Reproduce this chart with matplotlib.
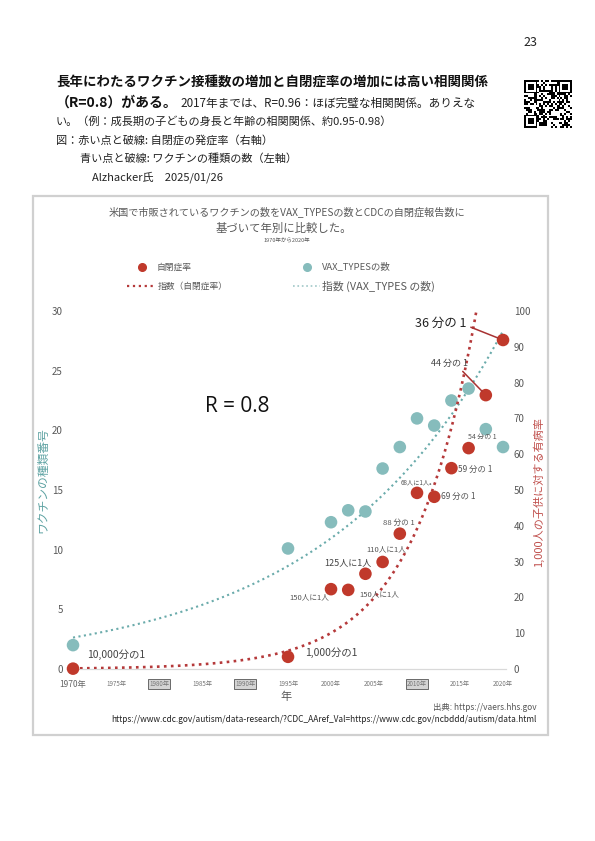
import hashlib
import numpy as np
import matplotlib
matplotlib.use('Agg')
import matplotlib.pyplot as plt
from matplotlib.lines import Line2D
from matplotlib.patches import Rectangle

plt.rcParams['font.family'] = ['Noto Sans CJK JP', 'DejaVu Sans']

# ---------------- data ----------------
years = [1970, 1995, 2000, 2002, 2004, 2006, 2008, 2010, 2012, 2014, 2016, 2018, 2020]
vax_types = [2.0, 10.1, 12.3, 13.3, 13.2, 16.8, 18.6, 21.0, 20.4, 22.5, 23.5, 20.1, 18.6]
autism_rate = [0.1, 3.4, 22.3, 22.1, 26.6, 29.9, 37.8, 49.2, 48.1, 56.1, 61.7, 76.5, 91.9]
rate_labels = ['10,000分の1', '1,000分の1', '150人に1人', '150人に1人', '125人に1人',
               '110人に1人', '88 分の 1', '68人に1人。', '69 分の 1', '59 分の 1',
               '54 分の 1', '44 分の 1', '36 分の 1']
xtick_years = [1970, 1975, 1980, 1985, 1990, 1995, 2000, 2005, 2010, 2015, 2020]
xtick_labels = [f'{y}年' for y in xtick_years]
boxed_years = [1980, 1990, 2010]
left_ticks = [0, 5, 10, 15, 20, 25, 30]
right_ticks = [0, 10, 20, 30, 40, 50, 60, 70, 80, 90, 100]

# ---------------- helpers ----------------
W, H = 595, 841
def fx(x):
    return x / W
def fy(y):
    return 1 - y / H

RED = '#c0392b'
RED_LINE = '#b5393a'
TEAL = '#86bcbc'
TEAL_LINE = '#6aabab'
GRAY = '#595959'

fig = plt.figure(figsize=(5.95, 8.41), dpi=100)
fig.patch.set_facecolor('white')

# ---------------- page header ----------------
fig.text(fx(530), fy(42), '23', fontsize=9, color='#222', ha='center', va='center')
fig.text(fx(56), fy(82), '長年にわたるワクチン接種数の増加と自閉症率の増加には高い相関関係',
         fontsize=9.7, weight='bold', color='#111', ha='left', va='center')
fig.text(fx(56), fy(103), '（R=0.8）がある。', fontsize=10, weight='bold', color='#111',
         ha='left', va='center')
fig.text(fx(180), fy(103), '2017年までは、R=0.96：ほぼ完璧な相関関係。ありえな',
         fontsize=8.4, color='#222', ha='left', va='center')
fig.text(fx(56), fy(122), 'い。（例：成長期の子どもの身長と年齢の相関関係、約0.95-0.98）',
         fontsize=8.0, color='#222', ha='left', va='center')
fig.text(fx(56), fy(140), '図：赤い点と破線: 自閉症の発症率（右軸）',
         fontsize=8.0, color='#222', ha='left', va='center')
fig.text(fx(80), fy(159), '青い点と破線: ワクチンの種類の数（左軸）',
         fontsize=8.0, color='#222', ha='left', va='center')
fig.text(fx(92), fy(177), 'Alzhacker氏　2025/01/26',
         fontsize=8.0, color='#222', ha='left', va='center')

# QR-like block (decorative)
n = 25
bits = []
seed = b'https://alzhacker.com'
while len(bits) < n * n:
    seed = hashlib.sha256(seed).digest()
    for byte in seed:
        for k in range(8):
            bits.append((byte >> k) & 1)
qr = np.array(bits[:n * n]).reshape(n, n)
def finder(r, c):
    qr[r:r + 7, c:c + 7] = 1
    qr[r + 1:r + 6, c + 1:c + 6] = 0
    qr[r + 2:r + 5, c + 2:c + 5] = 1
for (r, c) in [(0, 0), (0, n - 7), (n - 7, 0)]:
    finder(r, c)
qax = fig.add_axes([fx(523), fy(128), 49 / W, 48 / H])
qax.imshow(qr, cmap='gray_r', interpolation='nearest')
qax.axis('off')

# ---------------- chart frame ----------------
fig.add_artist(Rectangle((fx(33), fy(735)), (548 - 33) / W, (735 - 196) / H,
                         transform=fig.transFigure, fill=False,
                         edgecolor='#d0d0d0', linewidth=1.6))

fig.text(fx(287), fy(212), '米国で市販されているワクチンの数をVAX_TYPESの数とCDCの自閉症報告数に',
         fontsize=7.3, color=GRAY, ha='center', va='center')
fig.text(fx(284), fy(228), '基づいて年別に比較した。', fontsize=8.2, color=GRAY,
         ha='center', va='center')
fig.text(fx(287), fy(241), '1970年から2020年', fontsize=4, color=GRAY, ha='center', va='center')

# legend (manual)
fig.add_artist(Line2D([fx(142)], [fy(267)], marker='o', markersize=5.5, color=RED,
                      linestyle='none', transform=fig.transFigure))
fig.text(fx(157), fy(267), '自閉症率', fontsize=6.3, color=GRAY, ha='left', va='center')
fig.add_artist(Line2D([fx(307)], [fy(267)], marker='o', markersize=5.5, color=TEAL,
                      linestyle='none', transform=fig.transFigure))
fig.text(fx(322), fy(267), 'VAX_TYPESの数', fontsize=6.8, color=GRAY, ha='left', va='center')
fig.add_artist(Line2D([fx(127), fx(156)], [fy(286), fy(286)], linestyle=':', linewidth=1.6,
                      color=RED_LINE, transform=fig.transFigure))
fig.text(fx(158), fy(286), '指数（自閉症率）', fontsize=6.3, color=GRAY, ha='left', va='center')
fig.add_artist(Line2D([fx(293), fx(320)], [fy(286), fy(286)], linestyle=':', linewidth=1.2,
                      color='#9fc7c7', transform=fig.transFigure))
fig.text(fx(322), fy(286), '指数 (VAX_TYPES の数)', fontsize=7.8, color=GRAY, ha='left', va='center')

# ---------------- axes ----------------
ax = fig.add_axes([fx(67), fy(669), (505.6 - 67) / W, (669 - 311) / H])
ax.set_xlim(1969.3, 2020.3)
ax.set_ylim(0, 30)
ax2 = ax.twinx()
ax2.set_ylim(0, 100)

for a in (ax, ax2):
    for s in ('top', 'left', 'right'):
        a.spines[s].set_visible(False)
    a.patch.set_visible(False)
ax2.spines['bottom'].set_visible(False)
ax.spines['bottom'].set_color('#d9d9d9')
ax.spines['bottom'].set_linewidth(0.9)

# exponential trend lines fitted to the data
t = np.array(years) - 1970
grid = np.linspace(1970, 2020, 300)
bv, av = np.polyfit(t, np.log(vax_types), 1)
br, ar = np.polyfit(t, np.log(autism_rate), 1)
ax.plot(grid, np.exp(av + bv * (grid - 1970)), linestyle=':', color=TEAL_LINE,
        linewidth=1.5, zorder=2)
ax2.plot(grid, np.exp(ar + br * (grid - 1970)), linestyle=':', color=RED_LINE,
         linewidth=1.9, zorder=2)

ax.scatter(years, vax_types, s=82, color=TEAL, edgecolors='none', zorder=3, clip_on=False)
ax2.scatter(years, autism_rate, s=82, color=RED, edgecolors='none', zorder=3, clip_on=False)

ax.set_yticks(left_ticks)
ax.set_yticklabels([str(v) for v in left_ticks])
ax2.set_yticks(right_ticks)
ax2.set_yticklabels([str(v) for v in right_ticks])
ax.tick_params(axis='y', length=0, labelsize=7, labelcolor=GRAY, pad=3)
ax2.tick_params(axis='y', length=0, labelsize=7, labelcolor=GRAY, pad=6)

ax.set_xticks(xtick_years)
ax.set_xticklabels(xtick_labels)
ax.tick_params(axis='x', length=0, labelsize=4.5, labelcolor='#777', pad=8)
for lab, yr in zip(ax.get_xticklabels(), xtick_years):
    if yr == 1970:
        lab.set_fontsize(6)
        lab.set_color('#666')
    if yr in boxed_years:
        lab.set_bbox(dict(boxstyle='square,pad=0.15', facecolor='#d4d4d4',
                          edgecolor='#555', linewidth=0.6))

fig.text(fx(286), fy(697), '年', fontsize=8, color=GRAY, ha='center', va='center')
fig.text(fx(43), fy(480), 'ワクチンの種類番号', fontsize=8.5, color='#5fa3a3',
         rotation=90, ha='center', va='center')
fig.text(fx(538), fy(492), '1,000人の子供に対する有病率', fontsize=8, color='#c0504d',
         rotation=90, ha='center', va='center')

fig.text(fx(237), fy(407), 'R = 0.8', fontsize=15, color='#111', family='Open Sans',
         ha='center', va='center')

# ---------------- annotations for the red points ----------------
label_styles = [
    ((43, 14), 7.5, '#444', None),
    ((43, 4), 7.5, '#444', None),
    ((-22, -8), 5.5, '#555', None),
    ((31, -4), 5.5, '#555', None),
    ((-18, 11), 6.5, '#444', None),
    ((4, 13), 5.5, '#555', None),
    ((-1, 11), 5.5, '#555', None),
    ((1, 10), 4.5, '#555', None),
    ((24, 0), 6, '#555', None),
    ((24, -1), 6, '#555', None),
    ((14, 11), 5, '#555', None),
    ((-36, 32), 6.5, '#444', (0.75, 0.0)),
    ((-62, 17), 9, '#222', (1.0, 0.3)),
]
for yr, val, lab, (off, fs, col, rel) in zip(years, autism_rate, rate_labels, label_styles):
    kw = {}
    if rel is not None:
        kw['arrowprops'] = dict(arrowstyle='-', color='#a83232', linewidth=1.1,
                                shrinkA=1, shrinkB=4, relpos=rel)
    ax2.annotate(lab, (yr, val), xytext=off, textcoords='offset pixels',
                 ha='center', va='center', fontsize=fs, color=col,
                 annotation_clip=False, **kw)

# ---------------- footer ----------------
fig.text(fx(537), fy(708), '出典: https://vaers.hhs.gov', fontsize=6, color='#555',
         ha='right', va='center')
fig.text(fx(537), fy(719),
         'https://www.cdc.gov/autism/data-research/?CDC_AAref_Val=https://www.cdc.gov/ncbddd/autism/data.html',
         fontsize=6, color='#222', ha='right', va='center')

fig.savefig('out.png', dpi=100, facecolor='white')
